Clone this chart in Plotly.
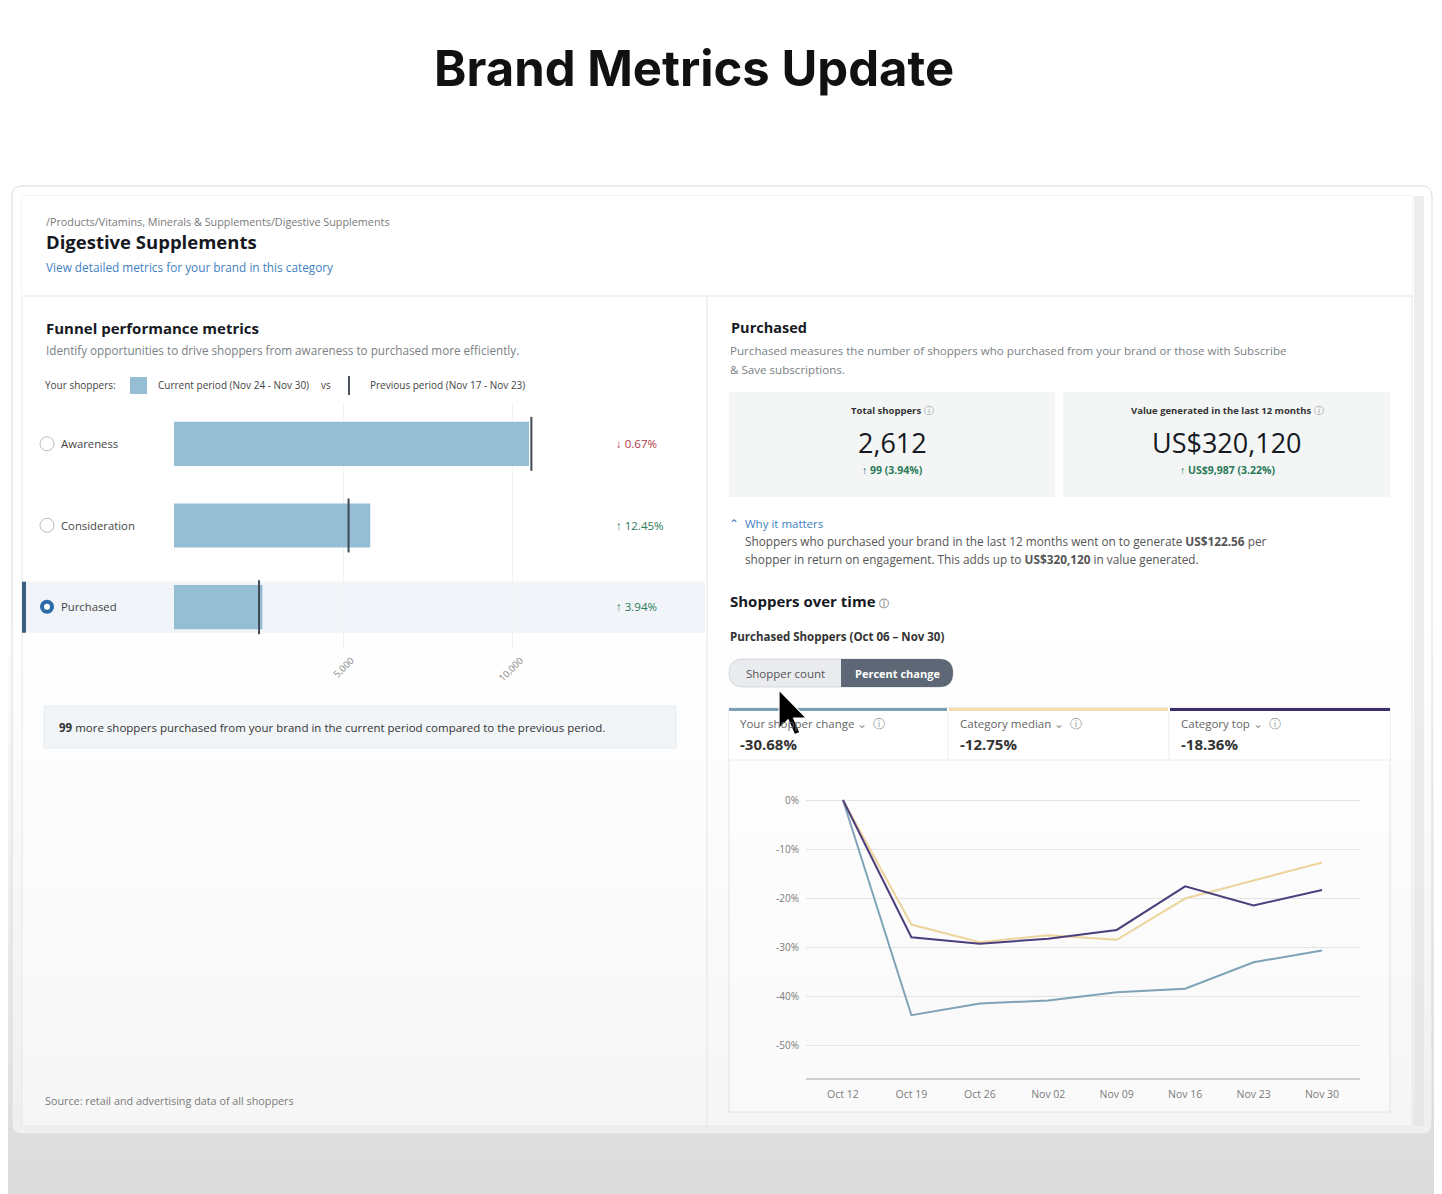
import plotly.graph_objects as go

# ---------------- data ----------------
stages = ["Awareness", "Consideration", "Purchased"]
current_shoppers = [10490, 5800, 2612]
previous_shoppers = [10560, 5158, 2513]
stage_change_pct = [-0.67, 12.45, 3.94]
bar_ticks = [5000, 10000]

weeks = ["Oct 12", "Oct 19", "Oct 26", "Nov 02", "Nov 09", "Nov 16", "Nov 23", "Nov 30"]
your_change = [0, -43.9, -41.5, -40.9, -39.2, -38.5, -33.1, -30.68]
category_median = [0, -25.4, -29.0, -27.6, -28.5, -20.1, -16.4, -12.75]
category_top = [0, -28.0, -29.3, -28.3, -26.5, -17.6, -21.5, -18.36]
y_ticks = [0, -10, -20, -30, -40, -50]
y_tick_labels = ["0%", "-10%", "-20%", "-30%", "-40%", "-50%"]

total_shoppers = 2612
total_change = 99
total_change_pct = 3.94
value_generated = 320120
value_change = 9987
value_change_pct = 3.22
value_per_shopper = 122.56

# ---------------- helpers ----------------
W, H = 1442, 1194          # page (screenshot) size
OFF = 8                    # default body margin of the html page
FW, FH = W - OFF, H - OFF  # figure size
FONT = "Open Sans"
BAR_COLOR = "#95bdd3"
C_YOUR = "#7fa3b6"
C_MED = "#ecd49c"
C_TOP = "#4d3e7c"

def px(x):
    return (x - OFF) / FW

def py(y):
    return 1 - (y - OFF) / FH

annotations = []
shapes = []

def T(x, y, text, size=10, color="#16191f", bold=False, anchor="left", family=FONT):
    annotations.append(dict(
        x=px(x), y=py(y), xref="paper", yref="paper",
        text=("<b>%s</b>" % text) if bold else text,
        showarrow=False, xanchor=anchor, yanchor="middle",
        font=dict(size=size, color=color, family=family)))

def R(x0, y0, x1, y1, fill="white", line=None, lw=1, layer="below"):
    shapes.append(dict(type="rect", xref="paper", yref="paper",
                       x0=px(x0), x1=px(x1), y0=py(y1), y1=py(y0),
                       fillcolor=fill, layer=layer,
                       line=dict(color=line or "rgba(0,0,0,0)", width=lw if line else 0)))

def L(x0, y0, x1, y1, color="#e3e3e3", lw=1, layer="below"):
    shapes.append(dict(type="line", xref="paper", yref="paper",
                       x0=px(x0), x1=px(x1), y0=py(y0), y1=py(y1),
                       layer=layer, line=dict(color=color, width=lw)))

def C(cx, cy, r, fill="white", line=None, lw=1, layer="below"):
    shapes.append(dict(type="circle", xref="paper", yref="paper",
                       x0=px(cx - r), x1=px(cx + r), y0=py(cy + r), y1=py(cy - r),
                       fillcolor=fill, layer=layer,
                       line=dict(color=line or "rgba(0,0,0,0)", width=lw if line else 0)))

def P(x, y):
    return "%.6f,%.6f" % (px(x), py(y))

def rrect_path(x0, y0, x1, y1, rl, rr):
    return ("M" + P(x0 + rl, y0) + " L" + P(x1 - rr, y0) +
            " Q" + P(x1, y0) + " " + P(x1, y0 + rr) +
            " L" + P(x1, y1 - rr) + " Q" + P(x1, y1) + " " + P(x1 - rr, y1) +
            " L" + P(x0 + rl, y1) + " Q" + P(x0, y1) + " " + P(x0, y1 - rl) +
            " L" + P(x0, y0 + rl) + " Q" + P(x0, y0) + " " + P(x0 + rl, y0) + " Z")

def RR(x0, y0, x1, y1, rl, rr, fill, line=None, lw=1, layer="below"):
    shapes.append(dict(type="path", xref="paper", yref="paper",
                       path=rrect_path(x0, y0, x1, y1, rl, rr), fillcolor=fill, layer=layer,
                       line=dict(color=line or "rgba(0,0,0,0)", width=lw if line else 0)))

# ---------------- background / card ----------------
g0, g1 = 620, H
nb = 32
for i in range(nb):
    ya = g0 + (g1 - g0) * i / nb
    yb = g0 + (g1 - g0) * (i + 1) / nb
    v = int(round(255 - 37 * ((i + 0.5) / nb)))
    R(OFF, ya, W, yb + 1, fill="rgb(%d,%d,%d)" % (v, v, v))

RR(12, 186, 1432, 1134, 10, 10, "rgba(255,255,255,0.5)", line="#dcdcdc")
R(22, 196, 1412, 1126, fill="rgba(255,255,255,0.45)", line="#e8e8e8")
R(22, 196, 1412, 296, fill="white")
R(1414, 196, 1424, 1126, fill="rgba(225,225,225,0.6)")
L(22, 296, 1412, 296, "#e4e4e4")
L(707, 296, 707, 1126, "#e4e4e4")

# ---------------- title & header ----------------
T(694, 68, "Brand Metrics Update", size=49, color="#111111", bold=True, anchor="center", family="Inter")
T(44, 222, "/Products/Vitamins, Minerals &amp; Supplements/Digestive Supplements", 10.8, "#7a7a7a")
T(44, 242, "Digestive Supplements", 18.5, "#16191f", bold=True)
T(44, 267, "View detailed metrics for your brand in this category", 11.8, "#3f7fbf")

# ---------------- left panel ----------------
T(44, 328, "Funnel performance metrics", 15, "#16191f", bold=True)
T(44, 350, "Identify opportunities to drive shoppers from awareness to purchased more efficiently.", 11.7, "#7a7f85")
T(43, 385, "Your shoppers:", 10, "#444")
R(130, 377, 147, 394, fill=BAR_COLOR)
T(156, 385, "Current period (Nov 24 - Nov 30)", 10, "#444")
T(319, 385, "vs", 10, "#444")
L(349, 376, 349, 395, "#4a5560", 2)
T(368, 385, "Previous period (Nov 17 - Nov 23)", 10, "#444")

row_y0, row_h = 403, 81.5
selected = 2
for i, s in enumerate(stages):
    cy = row_y0 + row_h * (i + 0.5)
    if i == selected:
        R(22, cy - 25, 705, cy + 26, fill="#f1f4f8")
        R(22, cy - 25, 26, cy + 26, fill="#3b5f80")
        C(47, cy, 7, fill="#2c6aa8")
        C(47, cy, 3, fill="white")
    else:
        C(47, cy, 7, fill="white", line="#b8bcc0")
    T(59, cy, s, 11.3, "#444")
    ch = stage_change_pct[i]
    if ch < 0:
        T(614, cy, "↓ %.2f%%" % abs(ch), 11.5, "#b03a48")
    else:
        T(614, cy, "↑ %.2f%%" % ch, 11.5, "#2a7a58")

diff = current_shoppers[2] - previous_shoppers[2]
R(44, 706, 676, 748, fill="#f1f5f8", line="#e8edf1")
T(57, 727, "<b>%d</b> more shoppers purchased from your brand in the current period compared to the previous period." % diff, 11.5, "#333")
T(43, 1100, "Source: retail and advertising data of all shoppers", 10.8, "#7a7a7a")

# ---------------- right panel ----------------
T(729, 328, "Purchased", 14.5, "#16191f", bold=True)
T(728, 351, "Purchased measures the number of shoppers who purchased from your brand or those with Subscribe", 11.6, "#7a7f85")
T(728, 369, "&amp; Save subscriptions.", 11.6, "#7a7f85")

R(729, 392, 1055, 497, fill="#f4f6f6")
R(1063, 392, 1390, 497, fill="#f4f6f6")
T(892, 411, "<b>Total shoppers</b> <span style='color:#999'>ⓘ</span>", 9.5, "#333", anchor="center")
T(892, 442, "{:,}".format(total_shoppers), 27, "#16191f", anchor="center")
T(892, 470, "<b>↑ %d (%.2f%%)</b>" % (total_change, total_change_pct), 10.5, "#2a7a58", anchor="center")
T(1227, 411, "<b>Value generated in the last 12 months</b> <span style='color:#999'>ⓘ</span>", 9.5, "#333", anchor="center")
T(1227, 442, "US${:,}".format(value_generated), 27, "#16191f", anchor="center")
T(1227, 470, "<b>↑ US${:,} ({:.2f}%)</b>".format(value_change, value_change_pct), 10.5, "#2a7a58", anchor="center")

T(727, 523, "⌃  Why it matters", 11.5, "#3f7fbf")
T(743, 541, "Shoppers who purchased your brand in the last 12 months went on to generate <b>US$%.2f</b> per" % value_per_shopper, 11.8, "#555")
T(743, 559, "shopper in return on engagement. This adds up to <b>US${:,}</b> in value generated.".format(value_generated), 11.8, "#555")

T(728, 601, "Shoppers over time <span style='color:#999;font-size:10px'>ⓘ</span>", 15, "#16191f", bold=True)
T(728, 636, "Purchased Shoppers (Oct 06 – Nov 30)", 11.5, "#333", bold=True)

RR(729, 659, 953, 687, 14, 14, "#e9ebee", line="#d5d9dd")
RR(841, 659, 953, 687, 0, 14, "#5d6776")
T(785, 673, "Shopper count", 11.5, "#555", anchor="center")
T(897, 673, "<b>Percent change</b>", 11, "white", anchor="center")

# chart container and legend tabs
R(729, 708, 1390, 1112, fill="rgba(255,255,255,0.35)", line="#e2e2e2")
R(729, 708, 1390, 760, fill="white")
L(729, 760, 1390, 760, "#ececec")
R(729, 708, 947, 711, fill="#7b9fb3")
R(949, 708, 1168, 711, fill="#f3dfae")
R(1170, 708, 1390, 711, fill="#3f2f6a")
L(948, 712, 948, 760, "#ececec")
L(1169, 712, 1169, 760, "#ececec")
tab_x = [738, 958, 1179]
tab_names = ["Your shopper change", "Category median", "Category top"]
tab_vals = [your_change[-1], category_median[-1], category_top[-1]]
for x, n, v in zip(tab_x, tab_names, tab_vals):
    T(x, 723, n + " <span style='color:#999'>⌄  ⓘ</span>", 11.5, "#666")
    T(x, 744, "%.2f%%" % v, 15, "#333", bold=True)

# mouse cursor
cur = [(0, 0), (0, 16), (3.8, 12.4), (6.5, 18.6), (8.7, 17.7), (6.1, 11.7), (11.4, 11.7)]
sx, ox, oy = 2.4, 779, 690
cpath = "M" + " L".join(P(ox + a * sx, oy + b * sx) for a, b in cur) + " Z"
shapes.append(dict(type="path", xref="paper", yref="paper", path=cpath, fillcolor="black",
                   layer="above", line=dict(color="white", width=1.2)))

# ---------------- traces ----------------
fig = go.Figure()

row_idx = list(range(len(stages)))
fig.add_trace(go.Bar(
    x=current_shoppers, y=row_idx, orientation="h", width=0.54,
    marker=dict(color=BAR_COLOR, line=dict(width=0)),
    xaxis="x", yaxis="y", showlegend=False, hoverinfo="skip"))

mx, my = [], []
for i, p in enumerate(previous_shoppers):
    mx += [p, p, None]
    my += [i - 0.33, i + 0.33, None]
fig.add_trace(go.Scatter(x=mx, y=my, mode="lines", line=dict(color="#3e4b56", width=2),
                         xaxis="x", yaxis="y", showlegend=False, hoverinfo="skip"))

for series, col, name in [(your_change, C_YOUR, tab_names[0]),
                          (category_median, C_MED, tab_names[1]),
                          (category_top, C_TOP, tab_names[2])]:
    fig.add_trace(go.Scatter(x=weeks, y=series, mode="lines", name=name,
                             line=dict(color=col, width=2), xaxis="x2", yaxis="y2",
                             showlegend=False))

scale = (529 - 174) / current_shoppers[0]  # px per shopper
bx0, bx1 = 174, 600
fig.update_layout(
    width=FW, height=FH,
    margin=dict(l=0, r=0, t=0, b=0),
    paper_bgcolor="white", plot_bgcolor="rgba(0,0,0,0)",
    font=dict(family=FONT),
    shapes=shapes, annotations=annotations,
    xaxis=dict(domain=[px(bx0), px(bx1)], anchor="y", range=[0, (bx1 - bx0) / scale],
               tickvals=bar_ticks, tickformat=",", tickangle=-45,
               tickfont=dict(size=9.5, color="#8a8a8a"), showgrid=True, gridcolor="#f1f3f3",
               zeroline=False, showline=False, ticks="", ticklabelshift=8, ticklabelstandoff=4),
    yaxis=dict(domain=[py(648), py(403)], anchor="x", range=[2.5, -0.5], visible=False),
    xaxis2=dict(domain=[px(806), px(1360)], anchor="y2", type="category",
                range=[-0.54, 7.555], showgrid=False, zeroline=False,
                showline=True, linecolor="#cfcfcf", linewidth=1.5, ticks="",
                tickfont=dict(size=10.5, color="#7a7a7a"), ticklabelstandoff=6),
    yaxis2=dict(domain=[py(1078), py(785)], anchor="x2", range=[-56.7, 3.06],
                tickvals=y_ticks, ticktext=y_tick_labels, showgrid=True, gridcolor="#e4e4e4",
                zeroline=False, showline=False, ticks="",
                tickfont=dict(size=10, color="#7a7a7a"), ticklabelstandoff=6),
)

fig.write_html("out.html")
